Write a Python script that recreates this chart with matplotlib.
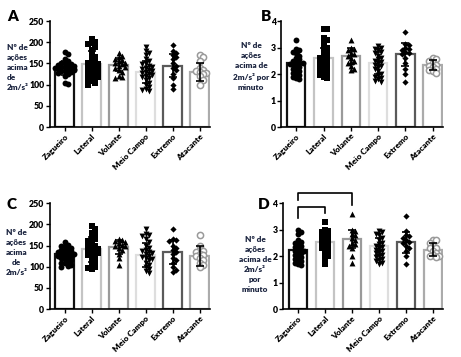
import numpy as np
import matplotlib
matplotlib.use("Agg")
from matplotlib import pyplot as plt

plt.rcParams['font.family'] = ['Lato', 'DejaVu Sans']
plt.rcParams['font.weight'] = 'heavy'

posicoes = ["Zagueiro", "Lateral", "Volante", "Meio Campo", "Extremo", "Atacante"]

# panel A - acoes acima de 2 m/s2 (primeiro jogo)
a_zag = [178, 172, 160, 155, 152, 150, 148, 147, 145, 144, 142, 141, 140, 139, 138, 137, 136, 135, 133, 132, 130, 128, 125, 120, 105, 102]
a_lat = [207, 200, 198, 195, 190, 182, 170, 165, 160, 155, 152, 150, 148, 145, 142, 140, 138, 135, 132, 130, 128, 125, 122, 120, 118, 115, 112, 108, 105, 100]
a_vol = [175, 168, 165, 160, 158, 155, 152, 150, 148, 145, 142, 140, 135, 130, 120, 118, 115]
a_mei = [190, 180, 175, 170, 160, 155, 150, 148, 145, 142, 140, 138, 135, 132, 130, 128, 125, 122, 120, 118, 115, 110, 105, 100, 95, 90, 88, 85]
a_ext = [193, 180, 175, 170, 165, 160, 150, 145, 140, 135, 125, 115, 100, 90]
a_ata = [170, 165, 155, 140, 135, 133, 130, 128, 125, 120, 112, 100]
a_media = [140, 148, 147, 131, 145, 130]
a_dp = [16, 31, 15, 26, 28, 22]

# panel B - por minuto
b_zag = [3.3, 2.95, 2.9, 2.85, 2.8, 2.7, 2.6, 2.55, 2.5, 2.45, 2.42, 2.4, 2.38, 2.35, 2.3, 2.25, 2.2, 2.15, 2.1, 2.05, 2.0, 1.95, 1.9, 1.85, 1.8]
b_lat = [3.7, 3.7, 3.35, 3.3, 3.2, 3.05, 3.0, 2.9, 2.8, 2.7, 2.65, 2.6, 2.55, 2.5, 2.45, 2.4, 2.35, 2.3, 2.2, 2.15, 2.1, 2.05, 2.0, 1.95, 1.9, 1.85]
b_vol = [3.3, 3.0, 2.95, 2.9, 2.8, 2.75, 2.7, 2.6, 2.5, 2.45, 2.4, 2.3, 2.2, 2.15]
b_mei = [3.05, 3.0, 2.95, 2.9, 2.85, 2.8, 2.7, 2.6, 2.55, 2.5, 2.45, 2.4, 2.35, 2.3, 2.25, 2.2, 2.1, 2.0, 1.95, 1.9, 1.85, 1.8, 1.75, 1.7]
b_ext = [3.6, 3.15, 3.1, 3.0, 2.95, 2.9, 2.85, 2.8, 2.75, 2.6, 2.4, 2.2, 2.0, 1.7]
b_ata = [2.6, 2.55, 2.5, 2.4, 2.35, 2.3, 2.25, 2.2, 2.15, 2.1, 2.05]
b_media = [2.4, 2.6, 2.68, 2.43, 2.75, 2.33]
b_dp = [0.35, 0.4, 0.3, 0.42, 0.44, 0.19]

# panel C
c_zag = [158, 152, 150, 148, 145, 142, 140, 138, 136, 135, 133, 131, 130, 128, 126, 125, 122, 120, 118, 115, 112, 110, 108, 105, 102, 100]
c_lat = [195, 190, 180, 175, 168, 165, 160, 155, 150, 148, 145, 142, 140, 138, 135, 132, 130, 128, 125, 120, 115, 110, 105, 100, 98, 95]
c_vol = [165, 162, 160, 158, 155, 152, 150, 148, 145, 140, 130, 120, 105]
c_mei = [188, 178, 175, 172, 165, 158, 150, 145, 140, 138, 135, 132, 130, 125, 122, 120, 118, 115, 110, 105, 100, 95, 90, 85]
c_ext = [190, 165, 162, 160, 150, 145, 140, 135, 130, 120, 115, 110, 100, 92, 88]
c_ata = [175, 150, 140, 138, 135, 130, 128, 125, 120, 115, 110, 105, 100]
c_media = [130, 141, 147, 128, 135, 125]
c_dp = [15, 29, 16, 29, 29, 23]

# panel D
d_zag = [3.0, 2.9, 2.85, 2.6, 2.55, 2.5, 2.45, 2.4, 2.35, 2.3, 2.25, 2.2, 2.2, 2.15, 2.1, 2.05, 2.0, 1.95, 1.9, 1.85, 1.8, 1.75, 1.7, 1.65]
d_lat = [3.3, 3.0, 2.95, 2.9, 2.85, 2.8, 2.75, 2.7, 2.65, 2.6, 2.55, 2.5, 2.45, 2.4, 2.35, 2.3, 2.25, 2.2, 2.1, 2.0, 1.9, 1.7]
d_vol = [3.6, 3.0, 2.95, 2.85, 2.8, 2.7, 2.6, 2.5, 2.45, 2.4, 2.3, 2.0, 1.75]
d_mei = [2.95, 2.9, 2.85, 2.8, 2.7, 2.6, 2.5, 2.45, 2.4, 2.35, 2.3, 2.25, 2.2, 2.15, 2.1, 2.05, 2.0, 1.95, 1.9, 1.85, 1.8, 1.75, 1.7]
d_ext = [3.5, 2.95, 2.8, 2.75, 2.7, 2.6, 2.55, 2.5, 2.4, 2.3, 2.2, 2.0, 1.7]
d_ata = [2.6, 2.6, 2.5, 2.4, 2.3, 2.3, 2.2, 2.1, 2.05, 2.0, 2.0, 1.95]
d_media = [2.22, 2.55, 2.65, 2.37, 2.52, 2.25]
d_dp = [0.24, 0.26, 0.35, 0.33, 0.4, 0.25]

# comparacoes significativas no painel D: (grupo1, grupo2, altura, perna1, perna2)
d_sig = [(0, 2, 4.38, 4.11, 3.92), (0, 1, 3.85, 3.43, 3.62)]

bordas = ["#111111", "#c4c4c4", "#9a9a9a", "#dedede", "#5a5a5a", "#ababab"]
marcadores = ["o", "s", "^", "v", "D", "o"]
cor_pontos = ["black", "black", "black", "black", "black", "#9a9a9a"]
tamanhos = [18, 18, 18, 18, 10, 20]


def swarm(vals, ymax, step=0.12, ytol=0.035):
    # spread points sideways so they don't sit on top of each other
    placed = []
    offs = []
    for v in vals:
        yv = v / ymax
        k = 0
        while True:
            cands = [0.0] if k == 0 else [k * step, -k * step]
            ok = None
            for c in cands:
                if all(abs(c - px) >= step * 0.95 or abs(yv - py) >= ytol for px, py in placed):
                    ok = c
                    break
            if ok is not None:
                break
            k += 1
        placed.append((ok, yv))
        offs.append(min(max(ok, -0.36), 0.36))
    return offs


def painel(ax, grupos, medias, dps, ymax, ystep, rotulo, rot_x, rot_y, rot_ha):
    x = np.arange(len(posicoes))
    for i in range(len(posicoes)):
        ax.bar(x[i], medias[i], width=0.68, color="white", edgecolor=bordas[i], linewidth=1.6, zorder=1)
        offs = swarm(grupos[i], ymax)
        if i == 5:
            ax.scatter(x[i] + np.array(offs), grupos[i], s=tamanhos[i], marker="o", facecolors="white",
                       edgecolors=cor_pontos[i], linewidths=1.1, zorder=2)
        else:
            ax.scatter(x[i] + np.array(offs), grupos[i], s=tamanhos[i], marker=marcadores[i],
                       color=cor_pontos[i], linewidths=0, zorder=2)
        ax.errorbar(x[i], medias[i], yerr=dps[i], color="black", capsize=3, elinewidth=1.2,
                    capthick=1.2, zorder=3)
    ax.set_xlim(-0.55, 5.38)
    ax.set_ylim(0, ymax)
    ax.set_yticks(np.arange(0, ymax + ystep / 2, ystep))
    ax.set_xticks(x)
    ax.set_xticklabels(posicoes, rotation=45, ha="right", rotation_mode="anchor", fontsize=5.9,
                       fontweight="heavy")
    ax.tick_params(axis="y", labelsize=6.3, length=3, width=1, pad=1)
    ax.tick_params(axis="x", length=3, width=1, pad=1)
    for s in ["top", "right"]:
        ax.spines[s].set_visible(False)
    for s in ["left", "bottom"]:
        ax.spines[s].set_linewidth(1.2)
    ax.text(rot_x, rot_y, rotulo, transform=ax.transAxes, ha=rot_ha, va="center", fontsize=5.9,
            fontweight="heavy", color="#1c2540", linespacing=1.5, multialignment=rot_ha)


fig = plt.figure(figsize=(4.61, 3.57), dpi=100)

axA = fig.add_axes([0.108, 0.644, 0.347, 0.297])
painel(axA, [a_zag, a_lat, a_vol, a_mei, a_ext, a_ata], a_media, a_dp, 250, 50,
       "Nº de\nações\nacima\nde\n2m/s²", -0.27, 0.56, "left")

axB = fig.add_axes([0.610, 0.644, 0.351, 0.297])
painel(axB, [b_zag, b_lat, b_vol, b_mei, b_ext, b_ata], b_media, b_dp, 4, 1,
       "Nº de\nações\nacima de\n2m/s² por\nminuto", -0.185, 0.57, "center")

axC = fig.add_axes([0.108, 0.134, 0.347, 0.297])
painel(axC, [c_zag, c_lat, c_vol, c_mei, c_ext, c_ata], c_media, c_dp, 250, 50,
       "Nº de\nações\nacima\nde\n2m/s²", -0.21, 0.53, "center")

axD = fig.add_axes([0.614, 0.134, 0.347, 0.297])
painel(axD, [d_zag, d_lat, d_vol, d_mei, d_ext, d_ata], d_media, d_dp, 4, 1,
       "Nº de\nações\nacima de\n2m/s²\npor\nminuto", -0.175, 0.42, "center")

for g1, g2, h, p1, p2 in d_sig:
    axD.plot([g1, g1, g2, g2], [p1, h, h, p2], color="black", lw=1.2, clip_on=False)

fig.text(0.015, 0.955, "A", fontsize=11, fontweight="heavy", va="center")
fig.text(0.566, 0.955, "B", fontsize=11, fontweight="heavy", va="center")
fig.text(0.015, 0.428, "C", fontsize=11, fontweight="heavy", va="center")
fig.text(0.560, 0.428, "D", fontsize=11, fontweight="heavy", va="center")

fig.savefig("out.png", dpi=100)
